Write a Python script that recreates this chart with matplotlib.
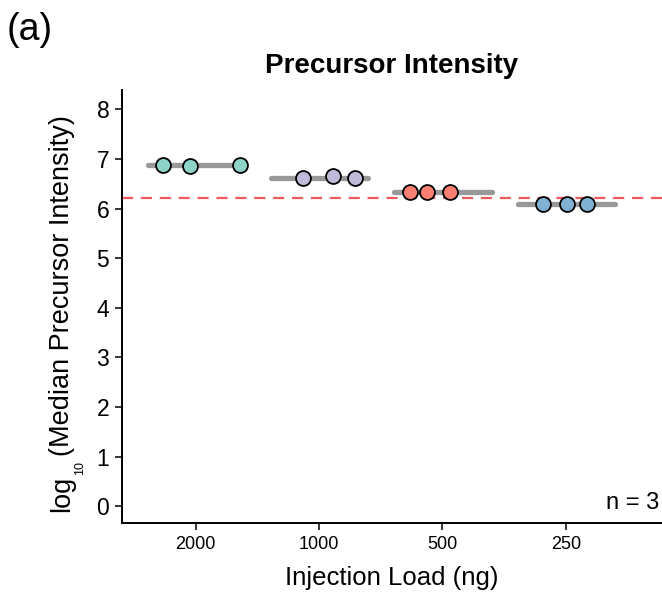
import matplotlib
matplotlib.use("Agg")
import matplotlib.pyplot as plt
import numpy as np

plt.rcParams['font.family'] = ['Liberation Sans', 'DejaVu Sans']
plt.rcParams['mathtext.default'] = 'regular'

categories = ["2000", "1000", "500", "250"]
colors = ["#8DD3C7", "#BEBADA", "#FB8072", "#80B1D3"]
values = [
    [6.875, 6.86, 6.88],
    [6.61, 6.65, 6.61],
    [6.33, 6.335, 6.33],
    [6.10, 6.10, 6.085],
]
jitter = [
    [-0.27, -0.046, 0.357],
    [-0.127, 0.111, 0.292],
    [-0.265, -0.124, 0.059],
    [-0.184, 0.006, 0.168],
]
reference_line = 6.21
n_label = "n = 3"

W, H = 662, 598
fig = plt.figure(figsize=(W / 100, H / 100), dpi=100)
ax = fig.add_axes([0.184, 0.1254, 0.816, 0.7241])

for i, (vals, jit, col) in enumerate(zip(values, jitter, colors)):
    pos = i + 1
    m = np.mean(vals)
    ax.plot([pos - 0.39, pos + 0.4], [m, m], color="#999999", lw=3.8,
            solid_capstyle="round", zorder=2)
    ax.scatter(pos + np.array(jit), vals, s=115, color=col,
               edgecolor="black", linewidth=1.3, zorder=3)

ax.axhline(reference_line, color="#F0595C", lw=1.6, dashes=(5, 3.5), zorder=1)

ax.set_xlim(0.40, 4.78)
ax.set_ylim(-0.34, 8.39)
ax.set_xticks(range(1, len(categories) + 1))
ax.set_xticklabels(categories, fontsize=13)
ax.set_yticks(range(0, 9))
ax.tick_params(axis='y', labelsize=16.5, length=5, width=1.1, pad=4)
ax.tick_params(axis='x', length=5, width=1.1, pad=4)
for s in ["top", "right"]:
    ax.spines[s].set_visible(False)
for s in ["left", "bottom"]:
    ax.spines[s].set_linewidth(1.4)

ax.set_xlabel("Injection Load (ng)", fontsize=18.5, labelpad=10)
ax.set_title("Precursor Intensity", fontsize=20, fontweight="bold", pad=12)
ax.text(0.995, 0.02, n_label, transform=ax.transAxes, ha="right", va="bottom",
        fontsize=17)
fig.text(0.01, 0.92, "(a)", fontsize=27, ha="left", va="bottom")

# y label built from pieces: log, subscript 10, rest
renderer = fig.canvas.get_renderer()
kw = dict(rotation=90, rotation_mode="anchor", ha="left", va="baseline")
base_x = 69
y0 = 86
t1 = fig.text(base_x / W, y0 / H, "log", fontsize=19.5, **kw)
l1 = t1.get_window_extent(renderer).height
y1 = y0 + l1 + 1
t2 = fig.text((base_x + 14) / W, y1 / H, "10", fontsize=9, **kw)
l2 = t2.get_window_extent(renderer).height
y2 = y1 + l2 + 5
fig.text(base_x / W, y2 / H, "(Median Precursor Intensity)", fontsize=19.5, **kw)

fig.savefig("out.png", dpi=100)
